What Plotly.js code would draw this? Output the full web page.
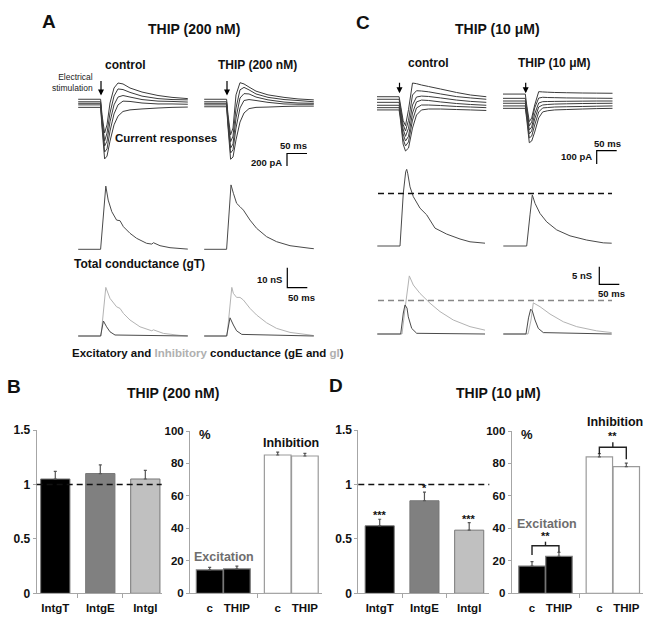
<!DOCTYPE html>
<html><head><meta charset="utf-8">
<script src="https://cdn.plot.ly/plotly-3.0.1.min.js"></script>
<style>html,body{margin:0;padding:0;background:#fff}#chart{width:658px;height:627px}</style>
</head><body><div id="chart"></div>
<script>
const W = 658, H = 627;
const FONT = 'Liberation Sans, Arial, Helvetica, sans-serif';

// ---------------- DATA ----------------
// Current responses (time in ms from stimulation, current in pA)
const tCur = [-57, -1, 2.5, 9, 15, 22.5, 32.5, 42.5, 55, 72.5, 102.5, 142.5, 177.5, 217];
// Panel A, control (200 pA scale)
const iA_ctrl_1 = [60, 60, -190, -480, -350, 0, 240, 320, 305, 240, 175, 120, 90, 70];
const iA_ctrl_2 = [20, 20, -240, -610, -480, -160, 110, 225, 215, 170, 110, 70, 55, 50];
const iA_ctrl_3 = [-5, -5, -290, -690, -610, -300, -30, 95, 120, 95, 55, 30, 25, 15];
const iA_ctrl_4 = [-30, -30, -335, -785, -735, -450, -175, -30, 30, 25, 0, -15, -15, -20];
const iA_ctrl_5 = [-70, -70, -385, -895, -850, -610, -350, -210, -135, -110, -95, -80, -70, -65];
// Panel A, THIP 200 nM
const iA_thip_1 = [60, 60, -190, -510, -400, 130, 325, 305, 255, 190, 130, 90, 65, 50];
const iA_thip_2 = [20, 20, -240, -620, -530, -80, 210, 250, 210, 145, 90, 55, 40, 20];
const iA_thip_3 = [-5, -5, -290, -720, -655, -240, 80, 150, 145, 95, 50, 15, 0, -5];
const iA_thip_4 = [-30, -30, -335, -800, -750, -400, -80, 40, 55, 40, 10, -15, -20, -20];
const iA_thip_5 = [-60, -60, -385, -900, -865, -590, -305, -160, -90, -70, -65, -55, -50, -50];
// Panel C, control (100 pA scale)
const iC_ctrl_1 = [47, 47, -15, -130, -170, -50, 150, 145, 135, 124, 105, 79, 60, 47];
const iC_ctrl_2 = [28, 28, -35, -160, -210, -130, 60, 92, 90, 84, 68, 48, 38, 28];
const iC_ctrl_3 = [5, 5, -60, -195, -250, -190, -15, 45, 52, 49, 38, 22, 12, 5];
const iC_ctrl_4 = [-17, -17, -82, -232, -285, -250, -75, 8, 22, 19, 8, -4, -11, -17];
const iC_ctrl_5 = [-35, -35, -105, -270, -322, -292, -128, -37, -15, -15, -19, -26, -30, -35];
const iC_ctrl_6 = [-52, -52, -128, -308, -360, -338, -188, -90, -52, -45, -45, -49, -52, -56];
// Panel C, THIP 10 uM
const iC_thip_1 = [67, 67, -15, -140, -112, -15, 85, 83, 81, 79, 77, 75, 74, 73];
const iC_thip_2 = [35, 35, -37, -172, -142, -37, 37, 43, 41, 40, 38, 37, 36, 35];
const iC_thip_3 = [15, 15, -60, -202, -180, -82, 0, 10, 11, 12, 13, 14, 15, 15];
const iC_thip_4 = [-2, -2, -75, -232, -210, -120, -30, -15, -11, -8, -6, -4, -3, -2];
const iC_thip_5 = [-22, -22, -97, -262, -248, -165, -67, -37, -34, -30, -28, -26, -24, -22];
const iC_thip_6 = [-40, -40, -120, -298, -285, -218, -112, -67, -58, -52, -49, -45, -42, -40];

// Conductances (ms, nS)
const tGT_Actrl = [-57, -1, 12, 18, 27, 39, 47.5, 56, 72.5, 89, 114, 127, 131, 147.5, 172.5, 210, 217];
const gT_Actrl  = [0, 0, 31.6, 24.6, 18.8, 14.6, 14.3, 11.3, 8, 5.5, 3, 2.6, 3.3, 1.8, 0.8, 0.2, 0.1];
const tGT_Athip = [-57, -1, 10, 16, 24, 32.5, 41, 57.5, 74, 99, 124, 157.5, 207.5, 217];
const gT_Athip  = [0, 0, 32.2, 28, 23, 21.3, 19.6, 14.6, 10.5, 6.3, 3.8, 1.8, 0.5, 0.3];
const tGI_Actrl = [-57, 0, 12, 22.5, 39, 47.5, 56, 72.5, 97.5, 127, 131, 156, 197.5, 217];
const gI_Actrl  = [0, 0, 24.3, 18.8, 14.6, 13.8, 11.3, 8, 4.6, 2.6, 3.1, 1.3, 0.3, 0.1];
const tGE_Actrl = [-57, -1, 6, 14, 22.5, 35, 217];
const gE_Actrl  = [0, 0, 7.5, 4.6, 2.1, 0.5, 0];
const tGI_Athip = [-57, 0, 12, 16, 24, 32.5, 41, 57.5, 74, 99, 124, 157.5, 207.5, 217];
const gI_Athip  = [0, 0, 24.3, 21.3, 19.3, 19.3, 18, 13.8, 10.5, 6.6, 3.8, 1.8, 0.5, 0.2];
const tGE_Athip = [-57, -1, 7.5, 16, 24, 37, 217];
const gE_Athip  = [0, 0, 9.1, 5.5, 2.6, 0.8, 0];

const tGT_Cctrl = [-55.5, 1.25, 9.5, 15.5, 18, 20.5, 26.25, 34.5, 51.25, 68, 88.75, 118, 151.25, 176.25, 213.75];
const gT_Cctrl  = [0, 0, 15.1, 21.2, 21.9, 20.8, 16.9, 14.1, 10.8, 8.9, 5.1, 3.4, 2, 1.2, 0.8];
const tGT_Cthip = [-56, 2.5, 10.75, 16.5, 23.25, 35.75, 52.5, 77.5, 110.75, 152.5, 194, 215];
const gT_Cthip  = [0, 0, 8.9, 14.6, 12.2, 9.3, 6.9, 4.6, 2.9, 1.7, 0.9, 0.8];
const tGI_Cctrl = [-55.5, 6.25, 15, 24.5, 34.5, 51.25, 76.25, 101.25, 134.5, 176.25, 213.75];
const gI_Cctrl  = [0, 0, 8.3, 16.6, 14, 11.6, 8.8, 6.4, 4, 2.1, 1.1];
const tGE_Cctrl = [-55.5, 3, 9.5, 13.75, 18.75, 22, 30.5, 43, 213.75];
const gE_Cctrl  = [0, 0, 6, 8.3, 7.4, 4.9, 1.6, 0.2, 0];
const tGI_Cthip = [-56, 5.75, 13.25, 19, 35.75, 60.75, 94, 127.5, 177.5, 215];
const gI_Cthip  = [0, 0, 4, 8.9, 7.8, 5.7, 3.5, 2.1, 0.9, 0.4];
const tGE_Cthip = [-56, 0.75, 7, 12.5, 16.5, 23.25, 31.5, 44, 215];
const gE_Cthip  = [0, 0, 4.6, 7.1, 6.6, 4, 1.6, 0.4, 0];
const refGT_C = 15.0;   // black dashed reference (nS)
const refGI_C = 9.6;    // grey dashed reference (nS)

// Bar charts
const intLabels = ['IntgT', 'IntgE', 'IntgI'];
const pctLabels = ['c', 'THIP', 'c', 'THIP'];
const intB = [1.05, 1.10, 1.05];
const intErrB = [0.07, 0.08, 0.08];
const excB = [14.4, 15.0];
const excErrB = [1.6, 1.8];
const inhB = [85.2, 84.6];
const inhErrB = [1.8, 1.6];
const intD = [0.62, 0.85, 0.58];
const intErrD = [0.06, 0.08, 0.07];
const intStarsD = ['***', '*', '***'];
const excD = [16.8, 22.8];
const excErrD = [2.7, 2.4];
const inhD = [84.0, 78.0];
const inhErrD = [2.0, 2.2];

// ---------------- AXES ----------------
function X(p0, p1, r0, r1) { return {domain: [p0 / W, p1 / W], range: [r0, r1]}; }
function Y(top, bot, r0, r1) { return {domain: [1 - bot / H, 1 - top / H], range: [r0, r1]}; }
const xA1 = () => X(78, 188, -57.5, 217.5), xA2 = () => X(204, 314, -57.5, 217.5);
const xC1 = () => X(377, 487, -56.25, 218.75), xC2 = () => X(503, 613, -56.75, 218.25);
const AX = {
  1: {x: xA1(), y: Y(75, 165, -992, 448)},
  2: {x: xA2(), y: Y(75, 165, -992, 448)},
  3: {x: xC1(), y: Y(75, 165, -465, 210)},
  4: {x: xC2(), y: Y(75, 165, -465, 210)},
  5: {x: xA1(), y: Y(180, 252, -1.35, 34.65)},
  6: {x: xA2(), y: Y(180, 252, -1.35, 34.65)},
  7: {x: xA1(), y: Y(280, 339, -1.5, 28)},
  8: {x: xA2(), y: Y(280, 339, -1.5, 28)},
  9: {x: xC1(), y: Y(165, 249, -0.857, 23.143)},
  10: {x: xC2(), y: Y(165, 249, -0.857, 23.143)},
  11: {x: xC1(), y: Y(268, 337, -0.857, 18.857)},
  12: {x: xC2(), y: Y(268, 337, -0.857, 18.857)},
  13: {x: X(36.7, 161.7, -0.413, 2.364), y: Y(430, 593.3, 0, 1.5)},
  14: {x: X(190, 321.7, -0.724, 4.118), y: Y(431, 593.3, 0, 100)},
  15: {x: X(358.3, 489.3, -0.478, 2.449), y: Y(430, 593.3, 0, 1.5)},
  16: {x: X(511.7, 643.3, -0.754, 4.131), y: Y(431, 593.3, 0, 100)}
};
function pX(n, v) { const a = AX[n].x; return a.domain[0] + (v - a.range[0]) / (a.range[1] - a.range[0]) * (a.domain[1] - a.domain[0]); }
function pY(n, v) { const a = AX[n].y; return a.domain[0] + (v - a.range[0]) / (a.range[1] - a.range[0]) * (a.domain[1] - a.domain[0]); }
function dX(n, v) { const a = AX[n].x; return v / (a.range[1] - a.range[0]) * (a.domain[1] - a.domain[0]); }
function dY(n, v) { const a = AX[n].y; return v / (a.range[1] - a.range[0]) * (a.domain[1] - a.domain[0]); }
const sid = n => (n === 1 ? '' : String(n));

// ---------------- TRACES ----------------
const traces = [];
function line(x, y, n, color, width) {
  traces.push({type: 'scatter', mode: 'lines', x: x, y: y, xaxis: 'x' + sid(n), yaxis: 'y' + sid(n),
    line: {color: color, width: width || 1, simplify: false}, hoverinfo: 'skip', showlegend: false});
}
const CUR = '#3c3c3c';
[iA_ctrl_1, iA_ctrl_2, iA_ctrl_3, iA_ctrl_4, iA_ctrl_5].forEach(v => line(tCur, v, 1, CUR));
[iA_thip_1, iA_thip_2, iA_thip_3, iA_thip_4, iA_thip_5].forEach(v => line(tCur, v, 2, CUR));
[iC_ctrl_1, iC_ctrl_2, iC_ctrl_3, iC_ctrl_4, iC_ctrl_5, iC_ctrl_6].forEach(v => line(tCur, v, 3, CUR));
[iC_thip_1, iC_thip_2, iC_thip_3, iC_thip_4, iC_thip_5, iC_thip_6].forEach(v => line(tCur, v, 4, CUR));
const GT = '#4a4a4a', GI = '#b3b3b3', GE = '#4a4a4a';
line(tGT_Actrl, gT_Actrl, 5, GT); line(tGT_Athip, gT_Athip, 6, GT);
line(tGI_Actrl, gI_Actrl, 7, GI); line(tGE_Actrl, gE_Actrl, 7, GE);
line(tGI_Athip, gI_Athip, 8, GI); line(tGE_Athip, gE_Athip, 8, GE);
line(tGT_Cctrl, gT_Cctrl, 9, GT); line(tGT_Cthip, gT_Cthip, 10, GT);
line(tGI_Cctrl, gI_Cctrl, 11, GI); line(tGE_Cctrl, gE_Cctrl, 11, GE);
line(tGI_Cthip, gI_Cthip, 12, GI); line(tGE_Cthip, gE_Cthip, 12, GE);

function errY(arr) { return {type: 'data', symmetric: false, array: arr, arrayminus: arr.map(() => 0), color: '#555', thickness: 1.2, width: 1.5}; }
function intBars(vals, errs, n) {
  traces.push({type: 'bar', x: [0, 1, 2], y: vals, width: 0.65, xaxis: 'x' + n, yaxis: 'y' + n,
    marker: {color: ['#000000', '#808080', '#c0c0c0'], line: {color: '#777', width: 1}},
    error_y: errY(errs), hoverinfo: 'skip', showlegend: false});
}
function pctBars(exc, excErr, inh, inhErr, n) {
  traces.push({type: 'bar', x: [0, 1, 2.5, 3.5], y: exc.concat(inh), width: 0.98, xaxis: 'x' + n, yaxis: 'y' + n,
    marker: {color: ['#000000', '#000000', '#ffffff', '#ffffff'], line: {color: ['#777', '#777', '#9a9a9a', '#9a9a9a'], width: 1.2}},
    error_y: errY(excErr.concat(inhErr)), hoverinfo: 'skip', showlegend: false});
}
intBars(intB, intErrB, 13); pctBars(excB, excErrB, inhB, inhErrB, 14);
intBars(intD, intErrD, 15); pctBars(excD, excErrD, inhD, inhErrD, 16);

// ---------------- LAYOUT ----------------
const layout = {width: W, height: H, margin: {l: 0, r: 0, t: 0, b: 0}, paper_bgcolor: '#ffffff',
  plot_bgcolor: 'rgba(0,0,0,0)', showlegend: false, font: {family: FONT, color: '#111'}};
const hidden = {showgrid: false, zeroline: false, showline: false, showticklabels: false, ticks: '', fixedrange: true};
const AXC = '#a6a6a6';
for (let n = 1; n <= 16; n++) {
  const xs = 'xaxis' + sid(n), ys = 'yaxis' + sid(n);
  if (n <= 12) {
    layout[xs] = Object.assign({anchor: 'y' + sid(n)}, hidden, AX[n].x);
    layout[ys] = Object.assign({anchor: 'x' + sid(n)}, hidden, AX[n].y);
  } else {
    const isInt = (n === 13 || n === 15);
    layout[xs] = Object.assign({anchor: 'y' + n, showgrid: false, zeroline: false, showline: true, linecolor: AXC, linewidth: 1,
      tickmode: 'array', tickvals: isInt ? [0, 1, 2] : [0, 1, 2.5, 3.5], ticktext: isInt ? intLabels : pctLabels,
      ticks: 'outside', ticklen: 4, tickcolor: 'rgba(0,0,0,0)',
      tickfont: {family: FONT, size: 11.5, color: '#111', weight: 'bold'},
      minor: {tickmode: 'array', tickvals: isInt ? [0.5, 1.5] : [1.75], ticks: 'outside', ticklen: 4, tickcolor: AXC, showgrid: false},
      fixedrange: true}, AX[n].x);
    layout[ys] = Object.assign({anchor: 'x' + n, showgrid: false, zeroline: false, showline: true, linecolor: AXC, linewidth: 1,
      tickmode: 'array', tickvals: isInt ? [0, 0.5, 1, 1.5] : [0, 20, 40, 60, 80, 100],
      ticks: 'outside', ticklen: 3, tickcolor: AXC,
      tickfont: {family: FONT, size: isInt ? 12 : 11.5, color: '#111', weight: 'bold'}, fixedrange: true}, AX[n].y);
  }
}

// annotations
const ann = [];
function T(text, x, y, size, o) {
  return Object.assign({text: text, x: x / W, y: 1 - y / H, xref: 'paper', yref: 'paper', showarrow: false,
    xanchor: 'center', yanchor: 'middle', font: {family: FONT, size: size, color: '#111', weight: 'bold'}}, o || {});
}
ann.push(T('A', 48.7, 21.7, 19), T('THIP (200 nM)', 193.5, 29, 14));
ann.push(T('C', 362.5, 22, 19), T('THIP (10 \u03bcM)', 497.5, 29.3, 14));
ann.push(T('control', 125.3, 65, 12), T('THIP (200 nM)', 257.5, 65, 12));
ann.push(T('control', 428.8, 62.7, 12), T('THIP (10 \u03bcM)', 554, 62.7, 12));
ann.push(T('Electrical<br>stimulation', 95, 83, 8.5, {xanchor: 'right', align: 'right', font: {family: FONT, size: 8.5, color: '#222', weight: 'normal'}}));
ann.push(T('Current responses', 166, 138, 11.5));
ann.push(T('Total conductance (gT)', 139, 264.3, 12));
ann.push(T('Excitatory and <span style="color:#b0b0b0">Inhibitory</span> conductance (gE and <span style="color:#b0b0b0">gI</span>)', 208, 352.7, 11.5));
// scale bar labels
ann.push(T('50 ms', 293.5, 146, 9.5), T('200 pA', 284, 162, 9.5, {xanchor: 'right'}));
ann.push(T('50 ms', 607.5, 143.3, 9.5), T('100 pA', 593.5, 156.5, 9.5, {xanchor: 'right'}));
ann.push(T('10 nS', 284, 279, 9.5, {xanchor: 'right'}), T('50 ms', 301, 297.7, 9.5));
ann.push(T('5 nS', 594, 275.7, 9.5, {xanchor: 'right'}), T('50 ms', 611.7, 293.3, 9.5));
// stimulation arrows (at t = 0 of each current panel)
function arrow(n, tipPy, len) {
  return {x: pX(n, 0), y: 1 - tipPy / H, xref: 'paper', yref: 'paper', text: '', showarrow: true,
    ax: 0, ay: -len, arrowhead: 2, arrowsize: 1, arrowwidth: 1.2, arrowcolor: '#000', standoff: 0};
}
ann.push(arrow(1, 95.5, 16), arrow(2, 95.5, 16), arrow(3, 93.3, 12), arrow(4, 93.3, 12));
// bar chart panels
ann.push(T('B', 14.2, 386.3, 19), T('THIP (200 nM)', 172.5, 393.3, 14));
ann.push(T('D', 336.3, 385, 19), T('THIP (10 \u03bcM)', 498.3, 393.3, 14));
ann.push(T('%', 205, 434, 13), T('%', 526.7, 434, 13));
ann.push(T('Inhibition', 291.3, 443.3, 12.5), T('Inhibition', 615, 422.3, 12.5));
ann.push(T('Excitation', 224.2, 556.7, 12.5, {font: {family: FONT, size: 12.5, color: '#6e6e6e', weight: 'bold'}}));
ann.push(T('Excitation', 547, 524, 12.5, {font: {family: FONT, size: 12.5, color: '#6e6e6e', weight: 'bold'}}));
intStarsD.forEach((s, i) => ann.push({text: s, x: i, y: intD[i] + intErrD[i], xref: 'x15', yref: 'y15', showarrow: false,
  xanchor: 'center', yanchor: 'bottom', yshift: -4, font: {family: FONT, size: 11, color: '#111', weight: 'bold'}}));

// shapes
const shapes = [];
function path(d, color, width, dash) {
  shapes.push({type: 'path', xref: 'paper', yref: 'paper', path: d, line: {color: color, width: width, dash: dash || 'solid'}});
}
function hline(x0, x1, y, color, width, dash) {
  shapes.push({type: 'line', xref: 'paper', yref: 'paper', x0: x0, x1: x1, y0: y, y1: y, line: {color: color, width: width, dash: dash}});
}
// scale bars
(function () {
  let cx = 287 / W, cy = 1 - 153.5 / H; // A current: 50 ms / 200 pA
  path(`M${cx + dX(2, 50)},${cy} L${cx},${cy} L${cx},${cy - dY(2, 200)}`, '#000', 1.2);
  cx = 596.7 / W; cy = 1 - 150.7 / H;   // C current: 50 ms / 100 pA
  path(`M${cx + dX(4, 50)},${cy} L${cx},${cy} L${cx},${cy - dY(4, 100)}`, '#000', 1.2);
  cx = 287.3 / W; cy = 1 - 287.7 / H;   // A conductance: 10 nS / 50 ms
  path(`M${cx},${cy + dY(6, 10)} L${cx},${cy} L${cx + dX(6, 50)},${cy}`, '#000', 1.2);
  cx = 599.3 / W; cy = 1 - 284.3 / H;   // C conductance: 5 nS / 50 ms
  path(`M${cx},${cy + dY(10, 5)} L${cx},${cy} L${cx + dX(10, 50)},${cy}`, '#000', 1.2);
})();
// dashed references in C
hline(378 / W, 612 / W, pY(9, refGT_C), '#111', 1.5, '6px,4px');
hline(378 / W, 612 / W, pY(11, refGI_C), '#888', 1.5, '6px,4px');
// y = 1 dashed lines in B and D
[13, 15].forEach(n => hline(AX[n].x.domain[0], AX[n].x.domain[1], pY(n, 1), '#111', 1.5, '6px,4px'));
// significance brackets in D (percent chart)
function bracket(x0, x1, yL, yR, top, tip, label) {
  path(`M${pX(16, x0)},${pY(16, yL)} L${pX(16, x0)},${pY(16, top)} L${pX(16, x1)},${pY(16, top)} L${pX(16, x1)},${pY(16, yR)}`, '#222', 1.4);
  const xm = (x0 + x1) / 2;
  path(`M${pX(16, xm)},${pY(16, top)} L${pX(16, xm)},${pY(16, tip)}`, '#222', 1.4);
  ann.push({text: label, x: xm, y: tip, xref: 'x16', yref: 'y16', showarrow: false, xanchor: 'center', yanchor: 'bottom',
    yshift: -2, font: {family: FONT, size: 11, color: '#111', weight: 'bold'}});
}
bracket(0, 1, 23.6, 25.5, 29.3, 31.8, '**');
bracket(2.5, 3.5, 85.8, 82.6, 90.0, 93.0, '**');

layout.annotations = ann;
layout.shapes = shapes;
Plotly.newPlot('chart', traces, layout, {displayModeBar: false, staticPlot: true});
</script></body></html>
